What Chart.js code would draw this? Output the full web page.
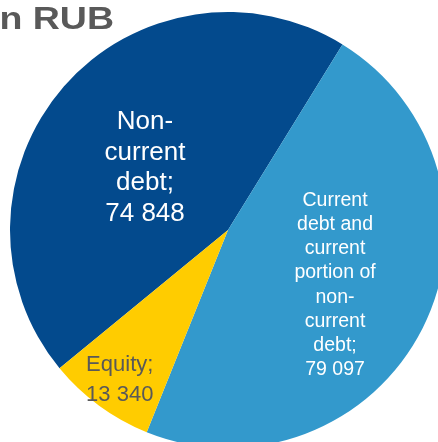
<!DOCTYPE html>
<html>
<head>
<meta charset="utf-8">
<script src="https://cdn.jsdelivr.net/npm/chart.js@4"></script>
<style>
    html, body { margin: 0; padding: 0; background: #fff; overflow: hidden; }
    #wrap { position: absolute; left: 0; top: 0; width: 460px; height: 460px; }
</style>
</head>
<body>
<div id="wrap"><canvas id="debt-chart" width="460" height="460"></canvas></div>
<script>
// Chart data
let categories = ['Non-current debt', 'Current debt and current portion of non-current debt', 'Equity'];
let values = [74848, 79097, 13340];
let valueLabels = ['74 848', '79 097', '13 340'];
let labelLines = [
    ['Non-', 'current', 'debt;'],
    ['Current', 'debt and', 'current', 'portion of', 'non-', 'current', 'debt;'],
    ['Equity;']
];
let titleText = 'n RUB';

// Slice styling
let sliceColors = ['#034a8d', '#3399cc', '#ffcc00'];
let labelColors = ['#ffffff', '#ffffff', '#595959'];
let labelFonts = [26, 19.5, 22];
let labelLineHeights = [30.5, 24.2, 30];
let labelRadius = [0.475, 0.55, 0.84];
let labelNudge = [[-5, 6], [0, 1], [0, 2]];

const sliceLabels = {
    id: 'sliceLabels',
    afterDatasetsDraw(chart) {
        let ctx = chart.ctx;
        let meta = chart.getDatasetMeta(0);
        ctx.save();
        ctx.textAlign = 'center';
        ctx.textBaseline = 'middle';
        meta.data.forEach((arc, i) => {
            let p = arc.getProps(['x', 'y', 'startAngle', 'endAngle', 'outerRadius'], true);
            let mid = (p.startAngle + p.endAngle) / 2;
            let cx = p.x + Math.cos(mid) * p.outerRadius * labelRadius[i] + labelNudge[i][0];
            let cy = p.y + Math.sin(mid) * p.outerRadius * labelRadius[i] + labelNudge[i][1];
            let lines = labelLines[i].concat([valueLabels[i]]);
            let lh = labelLineHeights[i];
            let top = cy - (lines.length - 1) * lh / 2;
            ctx.font = labelFonts[i] + 'px "Liberation Sans", Arial, sans-serif';
            ctx.fillStyle = labelColors[i];
            lines.forEach((line, j) => ctx.fillText(line, cx, top + j * lh));
        });

        // title, cut off at the left edge like the original
        ctx.textAlign = 'right';
        ctx.textBaseline = 'alphabetic';
        ctx.font = 'bold 31px "Liberation Sans", Arial, sans-serif';
        ctx.fillStyle = '#595959';
        ctx.translate(114, 29);
        ctx.scale(1.21, 1);
        ctx.fillText(titleText, 0, 0);
        ctx.restore();
    }
};

var ctx = document.getElementById('debt-chart').getContext('2d');
var debtChart = new Chart(ctx, {
    type: 'pie',
    data: {
        labels: categories,
        datasets: [{
            data: values,
            backgroundColor: sliceColors,
            borderWidth: 0
        }]
    },
    options: {
        responsive: false,
        animation: false,
        rotation: -129.4,
        layout: { padding: { left: 10, top: 12, right: 14, bottom: 12 } },
        plugins: {
            legend: { display: false },
            tooltip: { enabled: false }
        }
    },
    plugins: [sliceLabels]
});
</script>
</body>
</html>
